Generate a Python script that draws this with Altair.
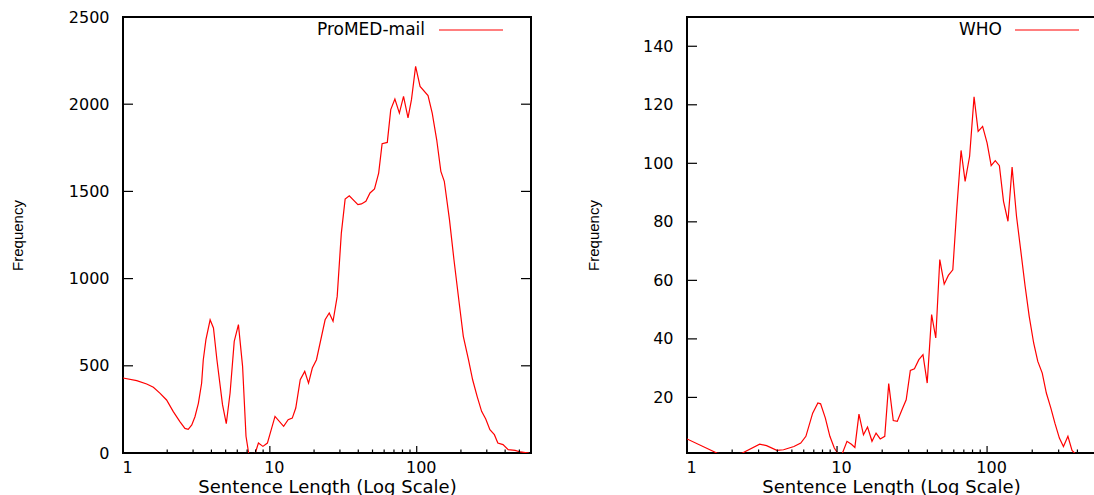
import altair as alt
import pandas as pd

series_names = ["ProMED-mail", "WHO"]

promed_len = [1, 1.24, 1.45, 1.61, 1.79, 1.98, 2.20, 2.44, 2.64, 2.78, 2.94, 3.09, 3.26, 3.43,
              3.52, 3.67, 3.92, 4.13,
              4.36, 4.76, 5.05, 5.36, 5.72, 6.11, 6.52, 6.88, 7.26, 7.75, 8.36, 8.97, 9.62,
              10.84, 12.41, 13.32, 14.21, 15.01, 16.10, 17.28, 18.34, 19.46, 20.77, 23.78,
              25.37, 26.93, 28.74, 30.67, 32.55, 34.74, 39.78, 42.01, 45.06, 48.08, 51.59,
              55.06, 58.12, 63.04, 66.55, 71.02, 76.19, 81.32, 87.24, 92.10, 98.28, 105.4,
              119.4, 127.5, 136.8, 146.0, 154.1, 167.1, 179.3, 193.4, 207.6, 225.1, 240.3,
              257.8, 276.6, 295.1, 315.0, 337.9, 356.7, 386.9, 419.7, 467.8, 507.4, 580.8]
promed_freq = [430, 415, 396, 377, 342, 304, 237, 180, 141, 136, 161, 208, 285, 400,
               533, 650, 764, 717,
               535, 277, 168, 344, 640, 736, 497, 96, -30, -30, 57, 38, 57,
               210, 153, 191, 200, 258, 420, 468, 401, 487, 535, 764,
               803, 755, 898, 1261, 1456, 1475, 1424, 1428, 1443, 1491, 1514,
               1605, 1774, 1781, 1969, 2030, 1949, 2045, 1921, 2026, 2217, 2102,
               2049, 1949, 1796, 1615, 1558, 1338, 1108, 879, 669, 535, 420,
               325, 239, 195, 134, 105, 57, 48, 19, 15, 6, 0]

who_len = [1.0, 1.58, 1.9, 2.34, 3.05, 3.39, 3.97, 4.40, 5.16, 5.73, 6.20, 6.88, 7.45, 7.77,
           8.36, 8.96, 9.59, 10.2, 10.8, 11.65, 12.47, 13.15, 14.0, 15.0, 15.97, 17.1, 18.2,
           19.4, 20.8, 22.1, 23.7, 25.2, 27.0, 28.9, 30.8, 32.8, 35.1, 37.4, 39.9, 42.7,
           45.5, 48.4, 51.8, 55.2, 59.1, 63.0, 67.1, 71.4, 76.5, 81.9, 87.2, 93.4, 100,
           106.5, 113.4, 120.8, 128.7, 137.8, 146.8, 157.1, 167.4, 179.3, 190.9, 204.4,
           217.8, 233.2, 248.3, 265.9, 283.2, 303.3, 322.9, 345.8, 368.3, 394.4]
who_freq = [5.8, 1.0, 0.0, 1.0, 4.0, 3.5, 1.9, 2.1, 3.2, 4.4, 6.7, 14.6, 18.1, 17.8,
            12.9, 6.7, 2.7, 0.6, 0.6, 5.0, 4.0, 2.9, 14.3, 7.2, 9.9, 5.0, 7.8,
            5.8, 6.7, 24.7, 12.1, 11.8, 15.6, 19.2, 29.2, 29.8, 32.9, 34.6, 24.9, 48.3,
            40.3, 67.1, 58.7, 61.7, 63.6, 85.3, 104.4, 93.8, 102.4, 122.7, 110.9, 112.6, 107.0,
            99.2, 100.9, 99.2, 87.0, 80.2, 98.7, 81.9, 70.5, 58.0, 47.7, 38.6,
            32.3, 28.3, 21.5, 16.4, 11.2, 6.1, 3.2, 6.7, 1.9, 0.3]

promed_y_ticks = [0, 500, 1000, 1500, 2000, 2500]
who_y_ticks = [20, 40, 60, 80, 100, 120, 140]
x_major_ticks = [1, 10, 100]
x_minor_ticks = [2, 3, 4, 5, 6, 7, 8, 9, 20, 30, 40, 50, 60, 70, 80, 90, 200, 300, 400, 500]

x_title = "Sentence Length (Log Scale)"
y_title = "Frequency"

FONT = "DejaVu Sans"
W = 408
H = 436
RED = "#ff0000"


def panel(lens, freqs, name, xdom, ydom, yticks, minor, legend_text_x, legend_line, title_x, right_ticks):
    xs = alt.Scale(type="log", domain=xdom)
    ys = alt.Scale(domain=ydom)
    df = pd.DataFrame({"len": lens, "freq": freqs})
    x_axis = alt.Axis(values=x_major_ticks, format="d", title=x_title, labelFont=FONT,
                      labelFontSize=16, labelColor="black", labelPadding=19,
                      labelBaseline="alphabetic", labelOffset=4, labelFlush=False,
                      ticks=False, tickSize=0, domain=False, grid=False,
                      titleFont=FONT, titleFontSize=18, titleFontWeight="normal",
                      titleColor="black", titleY=39, titleX=W / 2, titleAlign="center",
                      titleBaseline="alphabetic")
    y_axis = alt.Axis(values=yticks, format="d", title=y_title, labelFont=FONT, labelFontSize=16,
                      labelColor="black", labelPadding=14, ticks=False, tickSize=0,
                      domain=False, grid=False, titleFont="Liberation Sans",
                      titleFontSize=15, titleFontWeight="normal", titleColor="black",
                      titleAngle=270, titleX=title_x, titleY=H / 2, titleAlign="center",
                      titleBaseline="alphabetic")
    X = lambda: alt.X("len:Q", scale=xs, axis=x_axis)
    Y = lambda: alt.Y("freq:Q", scale=ys, axis=y_axis)
    line = alt.Chart(df).mark_line(color=RED, strokeWidth=1.2, clip=True).encode(x=X(), y=Y())
    inner = [t for t in yticks if ydom[0] < t < ydom[1]]
    ydf = pd.DataFrame({"freq": inner})
    layers = [line]
    layers.append(alt.Chart(ydf).mark_rule(color="black", strokeWidth=1.2).encode(
        y=Y(), x=alt.value(0), x2=alt.value(10)))
    if right_ticks:
        layers.append(alt.Chart(ydf).mark_rule(color="black", strokeWidth=1.2).encode(
            y=Y(), x=alt.value(W - 10), x2=alt.value(W)))
    mdf = pd.DataFrame({"len": minor})
    layers.append(alt.Chart(mdf).mark_rule(color="black", strokeWidth=1.2).encode(
        x=X(), y=alt.value(H), y2=alt.value(H - 3.5)))
    Mdf = pd.DataFrame({"len": [t for t in x_major_ticks if t > 1]})
    layers.append(alt.Chart(Mdf).mark_rule(color="black", strokeWidth=1.2).encode(
        x=X(), y=alt.value(H), y2=alt.value(H - 7)))
    ldf = pd.DataFrame({"name": [name]})
    layers.append(alt.Chart(ldf).mark_text(align="right", baseline="middle", font=FONT,
                                           fontSize=17, color="black").encode(
        text="name:N", x=alt.value(legend_text_x), y=alt.value(13)))
    layers.append(alt.Chart(ldf).mark_rule(color=RED, strokeWidth=1.2).encode(
        x=alt.value(legend_line[0]), x2=alt.value(legend_line[1]), y=alt.value(13)))
    return alt.layer(*layers).properties(width=W, height=H)


left = panel(promed_len, promed_freq, series_names[0], [1, 600], [0, 2500], promed_y_ticks,
             x_minor_ticks, 302, (316, 380), -101, True)
right = panel(who_len, who_freq, series_names[1], [1, 524], [1, 150], who_y_ticks,
              [t for t in x_minor_ticks if t < 450], 315, (328, 392), -89, False)

chart = alt.hconcat(left, right, spacing=156, bounds="flush").properties(
    autosize=alt.AutoSizeParams(type="none"),
    padding={"left": 123, "top": 17, "right": 971, "bottom": 478},
    background="white",
).configure_view(stroke="black", strokeWidth=2)

chart.save("out.html", embed_options={"renderer": "svg", "actions": False})
